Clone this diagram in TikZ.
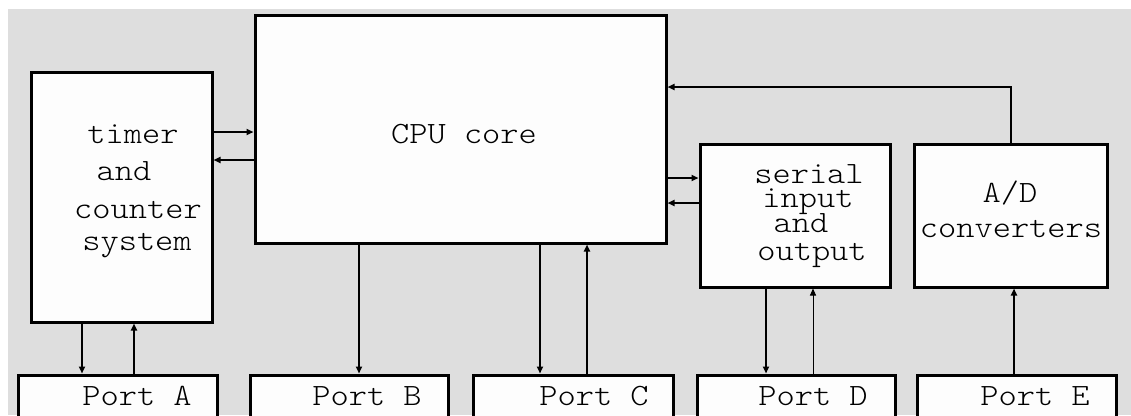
\documentclass[tikz,border=0pt]{standalone}
\usepackage{fontspec}
\newfontfamily\courlike[FakeStretch=1.12]{lmmonolt10-regular.otf}
\usetikzlibrary{arrows.meta}
\definecolor{bg}{RGB}{222,222,222}
\definecolor{boxfill}{RGB}{253,253,253}
\begin{document}
\begin{tikzpicture}[x=1bp,y=-1bp,
  box/.style={draw=black,line width=3bp,fill=boxfill,inner sep=0pt},
  lbl/.style={font=\courlike\fontsize{31bp}{36bp}\selectfont,anchor=base,inner sep=0pt},
  conn/.style={line width=1.8bp},
  arr/.style={conn,-{Triangle[length=7bp,width=6bp]}},
  thinarr/.style={line width=1bp,-{Triangle[length=7bp,width=6bp]}}]
\useasboundingbox (0,0) rectangle (1131,415);
\clip (0,0) rectangle (1131,415);
\fill[white] (0,0) rectangle (1131,415);
\fill[bg] (8,9) rectangle (1131,415);
% boxes
\node[box,minimum width=180bp,minimum height=250bp] (timer) at (122,197) {};
\node[box,minimum width=411bp,minimum height=228bp] (cpu) at (460.5,129) {};
\node[box,minimum width=190bp,minimum height=143bp] (serial) at (795,215.5) {};
\node[box,minimum width=193bp,minimum height=143bp] (ad) at (1010.5,215.5) {};
\node[box,minimum width=198bp,minimum height=65bp] (portA) at (118,407.5) {};
\node[box,minimum width=198bp,minimum height=65bp] (portB) at (349,407.5) {};
\node[box,minimum width=200bp,minimum height=65bp] (portC) at (573,407.5) {};
\node[box,minimum width=198bp,minimum height=65bp] (portD) at (796,407.5) {};
\node[box,minimum width=199bp,minimum height=65bp] (portE) at (1016.5,407.5) {};
% texts
\node[lbl] (t1) at (133,143) {timer};
\node[lbl] (t2) at (124,180) {and};
\node[lbl] (t3) at (138,218) {counter};
\node[lbl] (t4) at (137,250) {system};
\node[lbl] (c1) at (464,143) {CPU core};
\node[lbl] (s1) at (809,183) {serial};
\node[lbl] (s2) at (808,207) {input};
\node[lbl] (s3) at (801,232) {and};
\node[lbl] (s4) at (812,260) {output};
\node[lbl] (a1) at (1010,202) {A/D};
\node[lbl] (a2) at (1011,237) {converters};
\node[lbl] (pa) at (137,405) {Port A};
\node[lbl] (pb) at (367,405) {Port B};
\node[lbl] (pc) at (594,405) {Port C};
\node[lbl] (pd) at (813,405) {Port D};
\node[lbl] (pe) at (1035,405) {Port E};
% connectors
\draw[arr] (timer.east |- 0,132) -- (cpu.west |- 0,132);
\draw[arr] (cpu.west |- 0,160) -- (timer.east |- 0,160);
\draw[arr] (timer.south -| 82,0) -- (portA.north -| 82,0);
\draw[arr] (portA.north -| 134,0) -- (timer.south -| 134,0);
\draw[arr] (cpu.south -| 359,0) -- (portB.north -| 359,0);
\draw[arr] (cpu.south -| 540,0) -- (portC.north -| 540,0);
\draw[arr] (portC.north -| 587,0) -- (cpu.south -| 587,0);
\draw[arr] (cpu.east |- 0,178) -- (serial.west |- 0,178);
\draw[arr] (serial.west |- 0,203) -- (cpu.east |- 0,203);
\draw[arr] (serial.south -| 766,0) -- (portD.north -| 766,0);
\draw[thinarr] (portD.north -| 813,0) -- (serial.south -| 813,0);
\draw[arr] (ad.north -| 1011,0) |- (cpu.east |- 0,87);
\draw[arr] (portE.north -| 1014,0) -- (ad.south -| 1014,0);
\end{tikzpicture}
\end{document}
